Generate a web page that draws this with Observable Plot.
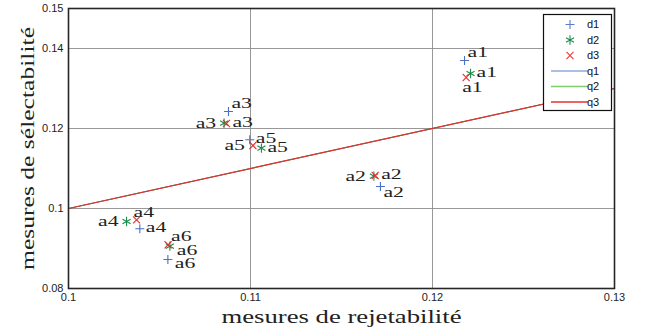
<!DOCTYPE html>
<html>
<head>
<meta charset="utf-8">
<script src="https://cdn.jsdelivr.net/npm/d3@7"></script>
<script src="https://cdn.jsdelivr.net/npm/@observablehq/plot@0.6"></script>
<style>
  html, body { margin: 0; padding: 0; background: #fff; }
</style>
</head>
<body>
<div id="chart"></div>
<script>
// ---- data ----
const alternatives = ["a1", "a2", "a3", "a4", "a5", "a6"];
const d1X = [0.12176, 0.11714, 0.10879, 0.10392, 0.10996, 0.10546];
const d1Y = [0.13700, 0.10550, 0.12425, 0.09492, 0.11717, 0.08725];
const d2X = [0.12209, 0.11678, 0.10855, 0.10319, 0.11060, 0.10557];
const d2Y = [0.13375, 0.10808, 0.12133, 0.09675, 0.11508, 0.09058];
const d3X = [0.12185, 0.11685, 0.10868, 0.10374, 0.11013, 0.10547];
const d3Y = [0.13275, 0.10825, 0.12125, 0.09717, 0.11575, 0.09093];
const lineX = [0.10, 0.13];
const q1Y = [0.10, 0.13];
const q2Y = [0.10, 0.13];
const q3Y = [0.10, 0.13];
const xTicks = [0.10, 0.11, 0.12, 0.13];
const yTicks = [0.08, 0.10, 0.12, 0.14, 0.15];
const xGrid = [0.11, 0.12];
const yGrid = [0.10, 0.12, 0.14];
const xLabel = "mesures de rejetabilité";
const yLabel = "mesures de sélectabilité";
const legendNames = ["d1", "d2", "d3", "q1", "q2", "q3"];

// ---- layout / style ----
const labelPlacement = {
  d1: ["ne", "se", "ne", "e", "e", "es"],
  d2: ["e", "w", "w", "w", "e", "es"],
  d3: ["s", "e", "e", "n", "w", "ne"]
};
const placeCode = {
  ne: {anchor: "start", dx: 3, dy: -8},
  e:  {anchor: "start", dx: 6, dy: -1},
  es: {anchor: "start", dx: 7, dy: 4},
  se: {anchor: "start", dx: 3, dy: 6},
  w:  {anchor: "end",   dx: -8, dy: 0},
  s:  {anchor: "start", dx: -4, dy: 10},
  n:  {anchor: "start", dx: -3, dy: -7}
};
const colors = {d1: "#4a6fc4", d2: "#1e8c4e", d3: "#ee2a2a",
                q1: "#4a6fc4", q2: "#2e9e3a", q3: "#e2302a"};
const lineWidths = {q1: 0.7, q2: 0.7, q3: 1.2};
const legendColors = {d1: "#5a7cc8", d2: "#1e8c4e", d3: "#ee3a3a",
                      q1: "#8eaadb", q2: "#80cc70", q3: "#e8302a"};
const symbols = {d1: "plus", d2: "asterisk", d3: "times"};
const symbolR = {d1: 3.0, d2: 4.4, d3: 3.3};
const serif = "Liberation Serif";

const series = {
  d1: {X: d1X, Y: d1Y},
  d2: {X: d2X, Y: d2Y},
  d3: {X: d3X, Y: d3Y}
};
const points = [];
for (const s of ["d1", "d2", "d3"]) {
  alternatives.forEach((a, i) => {
    points.push({series: s, name: a, x: series[s].X[i], y: series[s].Y[i], place: labelPlacement[s][i]});
  });
}
const lines = [];
[["q1", q1Y], ["q2", q2Y], ["q3", q3Y]].forEach(([q, ys]) => {
  lineX.forEach((x, i) => lines.push({series: q, x, y: ys[i]}));
});

const labelMarks = Object.keys(placeCode).map(code => {
  const p = placeCode[code];
  return Plot.text(points.filter(d => d.place === code), {
    x: "x", y: "y", text: "name",
    textAnchor: p.anchor, dx: p.dx, dy: p.dy,
    fontFamily: serif, fontSize: 14, fill: "#222"
  });
});

const chart = Plot.plot({
  width: 653,
  height: 330,
  marginLeft: 68,
  marginRight: 39,
  marginTop: 8,
  marginBottom: 42,
  style: {fontFamily: "Liberation Sans", fontSize: "11px", color: "#222", background: "#fff"},
  x: {domain: [0.10, 0.13], ticks: xTicks, tickFormat: d => String(+d.toFixed(3)), tickSize: 0, tickPadding: 5, label: null},
  y: {domain: [0.08, 0.15], ticks: yTicks, tickFormat: d => String(+d.toFixed(3)), tickSize: 0, tickPadding: 5, label: null},
  marks: [
    Plot.ruleX(xGrid, {stroke: "#8c8c8c", strokeWidth: 0.9}),
    Plot.ruleY(yGrid, {stroke: "#8c8c8c", strokeWidth: 0.9}),
    ...["q1", "q2", "q3"].map(q =>
      Plot.line(lines.filter(d => d.series === q), {x: "x", y: "y", stroke: colors[q], strokeWidth: lineWidths[q]})
    ),
    ...["d1", "d2", "d3"].map(s =>
      Plot.dot(points.filter(d => d.series === s), {x: "x", y: "y", symbol: symbols[s], r: symbolR[s], stroke: colors[s], strokeWidth: 1.1})
    ),
    ...labelMarks,
    Plot.frame({stroke: "#262626", strokeWidth: 1.6}),
    Plot.text([xLabel], {frameAnchor: "bottom", textAnchor: "middle", lineAnchor: "middle", dy: 28, fontFamily: serif, fontSize: 19, fill: "#222"}),
    Plot.text([yLabel], {frameAnchor: "left", textAnchor: "middle", lineAnchor: "middle", rotate: -90, dx: -41, fontFamily: serif, fontSize: 19, fill: "#222"})
  ]
});
document.getElementById("chart").appendChild(chart);

// horizontal stretch of the serif texts (the reference glyphs are wide)
d3.select(chart).selectAll(`g[font-family="${serif}"] text`).each(function () {
  const w = this.getComputedTextLength();
  const big = this.textContent.length > 5;
  const target = big ? (this.textContent === xLabel ? 240 : 243) : w * 1.55;
  this.setAttribute("textLength", target);
  this.setAttribute("lengthAdjust", "spacingAndGlyphs");
});

// legend box (top-right inside the frame)
const svg = d3.select(chart);
const lg = svg.append("g").attr("font-family", "Liberation Sans").attr("font-size", 11);
lg.append("rect").attr("x", 543.5).attr("y", 14.5).attr("width", 68).attr("height", 96)
  .attr("fill", "#fff").attr("stroke", "#111").attr("stroke-width", 1.2);
legendNames.forEach((name, i) => {
  const cy = 24.5 + i * 15.5;
  if (symbols[name]) {
    const sym = {plus: d3.symbolPlus, asterisk: d3.symbolAsterisk, times: d3.symbolTimes}[symbols[name]];
    lg.append("path")
      .attr("d", d3.symbol(sym, Math.PI * symbolR[name] * symbolR[name])())
      .attr("transform", `translate(570,${cy})`)
      .attr("fill", "none").attr("stroke", legendColors[name]).attr("stroke-width", 1.1);
  } else {
    lg.append("line").attr("x1", 551).attr("x2", 588).attr("y1", cy).attr("y2", cy)
      .attr("stroke", legendColors[name]).attr("stroke-width", 1.4);
  }
  lg.append("text").attr("x", 593).attr("y", cy).attr("dy", "0.35em").attr("fill", "#111").text(name);
});
</script>
</body>
</html>
